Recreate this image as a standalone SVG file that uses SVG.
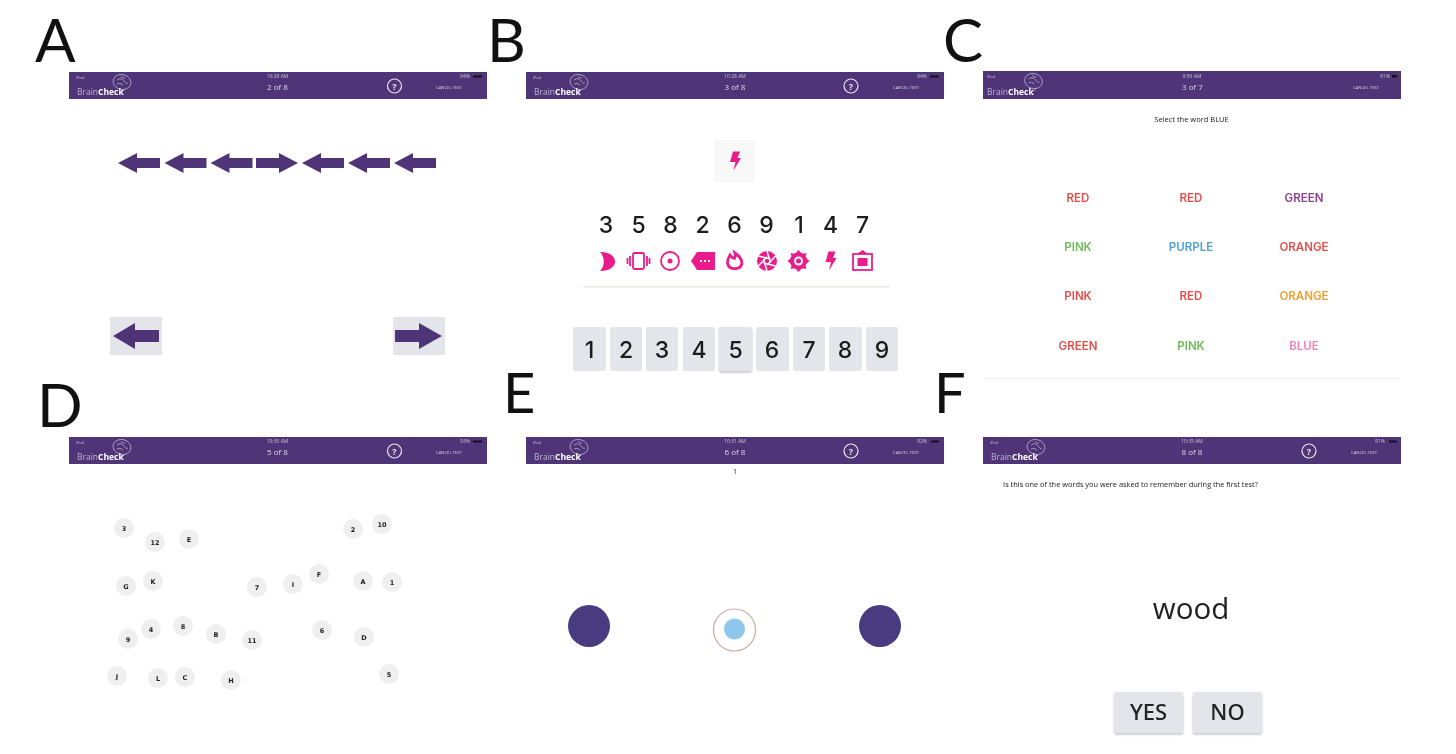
<svg xmlns="http://www.w3.org/2000/svg" width="1456" height="754" viewBox="0 0 1456 754">
<style>
text{font-family:"Open Sans","Liberation Sans",sans-serif;text-anchor:middle}
text.lab{font-family:"Lato","Open Sans",sans-serif;font-size:60px;fill:#111;text-anchor:start}
text.lab2{font-size:56px}
.bar{fill:#4f3677}
text.brand{font-size:8.500px;fill:#bdb3cf;text-anchor:start}
.brand tspan{fill:#fff;font-weight:700}
.ctr{font-size:8px;fill:#ddd7e6}
.tiny{font-size:5px;fill:#c9c1d8}
text.ipad{font-size:4px;fill:#c9c1d8}
.bat{fill:#15101f}
.cancel{font-size:4.200px;fill:#d8d2e2}
.q{fill:none;stroke:#e8e4ee;stroke-width:1.200}
.qt{font-size:9px;font-weight:700;fill:#e8e4ee}
.brain{fill:none;stroke:#b6abc9;stroke-width:.8}
.ar{fill:#4f3677}
.btn{fill:#e4e5ea}
.num text{font-family:"Inter","Noto Sans",sans-serif;font-size:23px;font-weight:500;fill:#1c1c1c}
.key text{font-family:"Inter","Noto Sans",sans-serif;font-size:23px;font-weight:500;fill:#1c1c1c}
.ic{fill:#ea1f8c}
.ics{fill:none;stroke:#ea1f8c;stroke-width:1.800}
.w text{font-family:"Inter","Noto Sans",sans-serif;font-size:11.500px;font-weight:600}
.dot{fill:#efefef}
.dt text{font-family:"DejaVu Sans",sans-serif;font-size:6.500px;font-weight:700;fill:#222}
.big{fill:#4a3a80}
.s{filter:url(#soft)}
.yn{font-family:"Noto Sans","Open Sans",sans-serif;font-size:22px;font-weight:500;fill:#222}
</style>
<defs>
<filter id="soft" x="-5%" y="-5%" width="110%" height="110%"><feGaussianBlur stdDeviation="0.45"/></filter>
<filter id="sh" x="-20%" y="-20%" width="140%" height="150%"><feDropShadow dx="0" dy="1.500" stdDeviation="1" flood-color="#9a9aa2" flood-opacity=".6"/></filter>
<path id="al" d="M0 10 19 0V5H42V15H19V20Z"/>
<path id="ar" d="M42 10 23 0V5H0V15H23V20Z"/>
<path id="bolt" d="M-2-9.500H5L2.500-3H6L-1.500 9.500 .5 1H-5Z"/>
<g id="br" class="brain"><ellipse cx="0" cy="0" rx="9" ry="7.500" transform="rotate(15)"/><path d="M-5-2Q-1-5 2-1T6 1M-5 2Q-2 0 1 3M-1-6Q0-3 3-4M3 7 0 10"/></g>
</defs>

<g id="panel-labels">
<text class="lab" x="35" y="62">A</text>
<text class="lab" x="487" y="62">B</text>
<text class="lab" x="943" y="62">C</text>
<text class="lab" x="37" y="427">D</text>
<text class="lab lab2" x="503" y="413">E</text>
<text class="lab lab2" x="934" y="413">F</text>
</g>

<g id="panel-a" class="s">
<rect class="bar" x="69" y="72" width="418" height="27"/>
<use href="#br" x="122" y="82"/>
<text class="brand" x="77" y="95">Brain<tspan>Check</tspan></text>
<text class="ipad" x="80" y="79">iPad</text><text class="tiny" x="277.500" y="78">10:28 AM</text><text class="tiny" x="465" y="78">94%</text><rect class="bat" x="473" y="75.500" width="9" height="2"/>
<text class="ctr" x="277.500" y="90">2 of 8</text>
<circle class="q" cx="394.500" cy="86" r="7"/><text class="qt" x="394.500" y="89.500">?</text>
<text class="cancel" x="449" y="89">CANCEL TEST</text>
<g class="ar">
<use href="#al" x="118" y="153"/><use href="#al" x="164.500" y="153"/><use href="#al" x="210.500" y="153"/>
<use href="#ar" x="256" y="153"/>
<use href="#al" x="302" y="153"/><use href="#al" x="348" y="153"/><use href="#al" x="394" y="153"/>
</g>
<rect class="btn" x="110" y="317" width="52" height="38" rx="1"/>
<rect class="btn" x="393" y="317" width="52" height="38" rx="1"/>
<path class="ar" d="M113 336 135 323V330H159V342H135V349Z"/>
<path class="ar" d="M442 336 419 323V330H395V342H419V349Z"/>
</g>

<g id="panel-b" class="s">
<rect class="bar" x="526" y="72" width="418" height="27"/>
<use href="#br" x="579" y="82"/>
<text class="brand" x="534" y="95">Brain<tspan>Check</tspan></text>
<text class="ipad" x="537" y="79">iPad</text><text class="tiny" x="735" y="78">10:28 AM</text><text class="tiny" x="922" y="78">94%</text><rect class="bat" x="930" y="75.500" width="9" height="2"/>
<text class="ctr" x="735" y="90">3 of 8</text>
<circle class="q" cx="851" cy="86" r="7"/><text class="qt" x="851" y="89.500">?</text>
<text class="cancel" x="906" y="89">CANCEL TEST</text>
<rect x="714" y="140" width="41" height="42" fill="#f8f8f8"/>
<use href="#bolt" class="ic" x="735" y="161"/>
<g class="num">
<text x="606" y="233">3</text><text x="638.500" y="233">5</text><text x="670.500" y="233">8</text><text x="702.500" y="233">2</text><text x="734.500" y="233">6</text><text x="766.500" y="233">9</text><text x="799" y="233">1</text><text x="830.500" y="233">4</text><text x="862.500" y="233">7</text>
</g>
<path class="ic" d="M600 252C612 252 615 258 615 261.500S612 271 600 271C605 266 605 257 600 252Z"/>
<g class="ics"><rect x="633" y="253" width="11" height="16" rx="1.500"/><path d="M630 256V266M627.500 258V264M647 256V266M649.500 258V264"/></g>
<circle class="ics" cx="670" cy="261" r="9"/><circle class="ic" cx="670" cy="261" r="2.500"/>
<path class="ic" d="M691 261 697 252H715V270H697Z"/><path d="M700 261H702M704 261H706M708 261H710" stroke="#fff" stroke-width="2"/>
<path d="M730 255Q732 258 734.500 258.500Q736 256 735 253Q742 258 742 263.500A7.500 7 0 0 1 727.500 263.500Q727.500 259 730 255Z" fill="none" stroke="#ea1f8c" stroke-width="2.800"/>
<circle class="ic" cx="767" cy="261" r="10"/><path d="M767 251 770.500 263M775.700 256 767 265M775.700 266 763.500 263M767 271 763.500 259M758.300 266 767 257M758.300 256 770.500 259" stroke="#fff" stroke-width="1.500"/>
<circle class="ic" cx="798.500" cy="261" r="8.500"/><path class="ic" d="M798.500 250 802 254H795ZM798.500 272 802 268H795ZM787.500 261 791.500 257.500V264.500ZM809.500 261 805.500 257.500V264.500ZM790.500 253 796 254 792 258ZM806.500 253 801 254 805 258ZM790.500 269 796 268 792 264ZM806.500 269 801 268 805 264Z"/><circle cx="798.500" cy="261" r="4.500" fill="#fff"/><circle class="ic" cx="798.500" cy="261" r="2.500"/>
<use href="#bolt" class="ic" x="830.500" y="261"/>
<rect class="ics" x="853" y="254" width="19" height="16"/><path class="ic" d="M857 254 862.500 250 868 254Z"/><rect class="ic" x="857.500" y="258" width="10" height="8"/>
<rect x="583" y="286" width="307" height="1.500" fill="#ece9e4"/>
<g class="btn">
<rect x="573" y="327" width="33" height="44" rx="2"/><rect x="610" y="327" width="32" height="44" rx="2"/><rect x="646" y="327" width="32" height="44" rx="2"/><rect x="683" y="327" width="32" height="44" rx="2"/><rect x="719" y="327" width="33" height="44" rx="2" filter="url(#sh)"/><rect x="756" y="327" width="33" height="44" rx="2"/><rect x="793" y="327" width="32" height="44" rx="2"/><rect x="829" y="327" width="33" height="44" rx="2"/><rect x="866" y="327" width="32" height="44" rx="2"/>
</g>
<g class="key">
<text x="589.500" y="358">1</text><text x="626" y="358">2</text><text x="662" y="358">3</text><text x="699" y="358">4</text><text x="735.500" y="358">5</text><text x="772" y="358">6</text><text x="809" y="358">7</text><text x="845" y="358">8</text><text x="882" y="358">9</text>
</g>
</g>

<g id="panel-c" class="s">
<rect class="bar" x="983" y="71" width="418" height="28"/>
<use href="#br" x="1033.500" y="81"/>
<text class="brand" x="987" y="95">Brain<tspan>Check</tspan></text>
<text class="ipad" x="991" y="77.500">iPad</text><text class="tiny" x="1192" y="78">9:50 AM</text><text class="tiny" x="1385" y="78">91%</text><rect class="bat" x="1392" y="75" width="5" height="2.500"/>
<text class="ctr" x="1192.500" y="90">3 of 7</text>
<text class="cancel" x="1366" y="89">CANCEL TEST</text>
<text x="1191.500" y="122" font-size="7.500" fill="#222">Select the word BLUE</text>
<g class="w">
<text x="1078" y="202" fill="#e0504a">RED</text><text x="1191" y="202" fill="#e0504a">RED</text><text x="1304" y="202" fill="#8f3f8f">GREEN</text>
<text x="1078" y="251" fill="#6cbb5a">PINK</text><text x="1191" y="251" fill="#4e9fd6">PURPLE</text><text x="1304" y="251" fill="#e0504a">ORANGE</text>
<text x="1078" y="300" fill="#e0504a">PINK</text><text x="1191" y="300" fill="#e0504a">RED</text><text x="1304" y="300" fill="#f0a030">ORANGE</text>
<text x="1078" y="350" fill="#e0504a">GREEN</text><text x="1191" y="350" fill="#6cbb5a">PINK</text><text x="1304" y="350" fill="#ee82b8">BLUE</text>
</g>
<rect x="983" y="378" width="418" height="1" fill="#f3f3f3"/>
</g>

<g id="panel-d" class="s">
<rect class="bar" x="69" y="437" width="418" height="27"/>
<use href="#br" x="122" y="447"/>
<text class="brand" x="77" y="460">Brain<tspan>Check</tspan></text>
<text class="ipad" x="80" y="444">iPad</text><text class="tiny" x="277.500" y="443">10:30 AM</text><text class="tiny" x="465" y="443">93%</text><rect class="bat" x="473" y="440.500" width="9" height="2"/>
<text class="ctr" x="277.500" y="455">5 of 8</text>
<circle class="q" cx="394.500" cy="451" r="7"/><text class="qt" x="394.500" y="454.500">?</text>
<text class="cancel" x="449" y="454">CANCEL TEST</text>
<g class="dot">
<circle cx="124" cy="528" r="10"/><circle cx="155" cy="542" r="10"/><circle cx="189" cy="539" r="10"/><circle cx="353" cy="529" r="10"/><circle cx="382" cy="524" r="10"/>
<circle cx="126" cy="586" r="10"/><circle cx="153" cy="581" r="10"/><circle cx="257" cy="587" r="10"/><circle cx="293" cy="584" r="10"/><circle cx="319" cy="574" r="10"/><circle cx="363" cy="581" r="10"/><circle cx="392" cy="582" r="10"/>
<circle cx="128" cy="639" r="10"/><circle cx="151" cy="629" r="10"/><circle cx="183" cy="626" r="10"/><circle cx="216" cy="634" r="10"/><circle cx="252" cy="640" r="10"/><circle cx="322" cy="630" r="10"/><circle cx="364" cy="637" r="10"/>
<circle cx="117" cy="676" r="10"/><circle cx="158" cy="678" r="10"/><circle cx="185" cy="677" r="10"/><circle cx="231" cy="680" r="10"/><circle cx="389" cy="674" r="10"/>
</g>
<g class="dt">
<text x="124" y="530.500">3</text><text x="155" y="544.500">12</text><text x="189" y="541.500">E</text><text x="353" y="531.500">2</text><text x="382" y="526.500">10</text>
<text x="126" y="588.500">G</text><text x="153" y="583.500">K</text><text x="257" y="589.500">7</text><text x="293" y="586.500">I</text><text x="319" y="576.500">F</text><text x="363" y="583.500">A</text><text x="392" y="584.500">1</text>
<text x="128" y="641.500">9</text><text x="151" y="631.500">4</text><text x="183" y="628.500">8</text><text x="216" y="636.500">B</text><text x="252" y="642.500">11</text><text x="322" y="632.500">6</text><text x="364" y="639.500">D</text>
<text x="117" y="678.500">J</text><text x="158" y="680.500">L</text><text x="185" y="679.500">C</text><text x="231" y="682.500">H</text><text x="389" y="676.500">5</text>
</g>
</g>

<g id="panel-e" class="s">
<rect class="bar" x="526" y="437" width="418" height="27"/>
<use href="#br" x="579" y="447"/>
<text class="brand" x="534" y="460">Brain<tspan>Check</tspan></text>
<text class="ipad" x="537" y="444">iPad</text><text class="tiny" x="735" y="443">10:31 AM</text><text class="tiny" x="922" y="443">92%</text><rect class="bat" x="931" y="440.500" width="8" height="2"/>
<text class="ctr" x="735" y="455">6 of 8</text>
<circle class="q" cx="851" cy="451" r="7"/><text class="qt" x="851" y="454.500">?</text>
<text class="cancel" x="906" y="454">CANCEL TEST</text>
<text x="735" y="474" font-size="8" fill="#444">1</text>
<circle class="big" cx="589" cy="626" r="21"/>
<circle cx="734.500" cy="630" r="21" fill="#fff" stroke="#c9a9a0" stroke-width="1.200"/>
<circle cx="734.500" cy="629" r="10.500" fill="#8fc6ec"/>
<circle class="big" cx="880" cy="626" r="21"/>
</g>

<g id="panel-f" class="s">
<rect class="bar" x="983" y="437" width="418" height="27"/>
<use href="#br" x="1036" y="447"/>
<text class="brand" x="991" y="460">Brain<tspan>Check</tspan></text>
<text class="ipad" x="994" y="444">iPad</text><text class="tiny" x="1192" y="443">10:35 AM</text><text class="tiny" x="1380" y="443">91%</text><rect class="bat" x="1389" y="440.500" width="8" height="2"/>
<text class="ctr" x="1192" y="455">8 of 8</text>
<circle class="q" cx="1309" cy="451" r="7"/><text class="qt" x="1309" y="454.500">?</text>
<text class="cancel" x="1364" y="454">CANCEL TEST</text>
<text x="1130.500" y="487" font-size="7.400" fill="#222">Is this one of the words you were asked to remember during the first test?</text>
<text x="1191" y="619" font-size="29.500" fill="#222">wood</text>
<rect class="btn" x="1114" y="692" width="69" height="41" rx="2" filter="url(#sh)"/>
<rect class="btn" x="1193" y="692" width="69" height="41" rx="2" filter="url(#sh)"/>
<text class="yn" x="1148.500" y="720">YES</text>
<text class="yn" x="1227.500" y="720">NO</text>
</g>
</svg>
